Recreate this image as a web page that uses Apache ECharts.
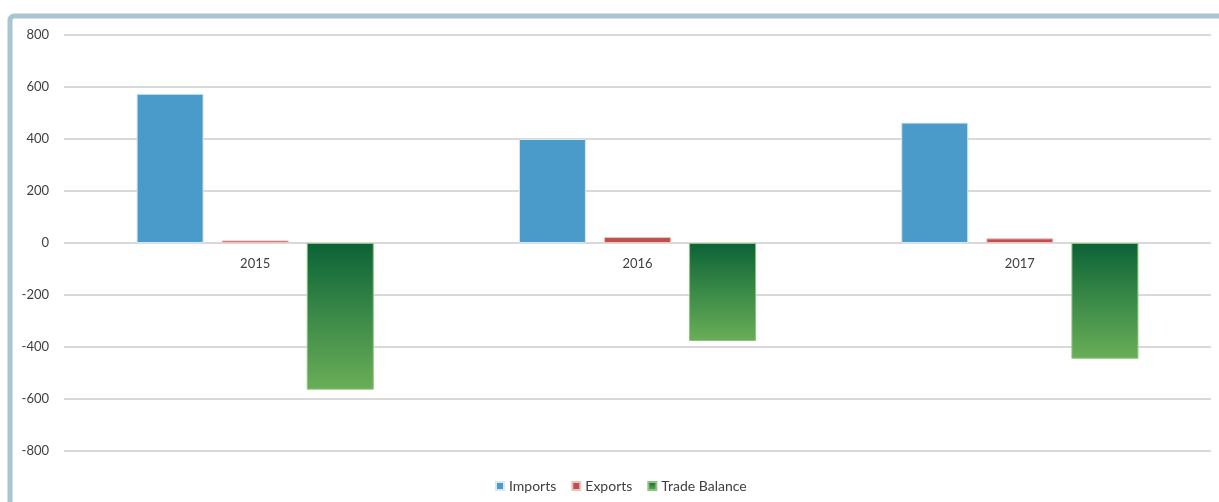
<!DOCTYPE html>
<html>
<head>
<meta charset="utf-8">
<script src="https://cdn.jsdelivr.net/npm/echarts@6/dist/echarts.min.js"></script>
<style>
  html, body { margin: 0; padding: 0; background: #fff; }
  #main { width: 1219px; height: 502px; }
</style>
</head>
<body>
<div id="main"></div>
<script>
var years = ['2015', '2016', '2017']
var imports = [574, 400, 463]
var exports = [10, 23, 18]
var tradeBalance = [-564, -377, -445]
var yTicks = [-800, 800, 200] // min, max, step

var chart = echarts.init(document.getElementById('main'))
var txt = '#404040'
var font = 'Lato, "Open Sans", sans-serif'

var greenFill = new echarts.graphic.LinearGradient(0, 0, 0, 1, [
    { offset: 0, color: '#0b6236' },
    { offset: 0.5, color: '#3b8a48' },
    { offset: 1, color: '#6aae57' },
])

var option = {
    animation: false,
    textStyle: { fontFamily: font },
    graphic: [
        {
            type: 'rect',
            shape: { x: 10, y: 16, width: 1400, height: 700, r: 4 },
            style: { fill: 'none', stroke: '#a9c5cf', lineWidth: 5 },
            silent: true,
        },
    ],
    grid: { left: 64, right: 8, top: 35, bottom: 51 },
    legend: {
        left: 490,
        bottom: 4,
        itemWidth: 8,
        itemHeight: 8,
        itemGap: 15,
        icon: 'rect',
        textStyle: { color: txt, fontSize: 14, fontFamily: font },
        data: ['Imports', 'Exports', 'Trade Balance'],
    },
    xAxis: {
        type: 'category',
        data: years,
        offset: -208, // labels sit under the zero line
        axisLine: { show: false, onZero: false },
        axisTick: { show: false },
        axisLabel: { color: txt, fontSize: 13, margin: 14 },
    },
    yAxis: {
        type: 'value',
        min: yTicks[0],
        max: yTicks[1],
        interval: yTicks[2],
        axisLine: { show: false },
        axisTick: { show: false },
        axisLabel: { color: txt, fontSize: 13, margin: 15 },
        splitLine: { lineStyle: { color: '#d9d9d9', width: 2 } },
    },
    series: [
        {
            name: 'Imports',
            type: 'bar',
            data: imports,
            barWidth: 67,
            barGap: '27%',
            itemStyle: { color: '#4a9bca', borderColor: '#d6e8f2', borderWidth: 1 },
        },
        {
            name: 'Exports',
            type: 'bar',
            data: exports,
            barWidth: 67,
            itemStyle: { color: '#c0504d', borderColor: '#e9c4c3', borderWidth: 1 },
        },
        {
            name: 'Trade Balance',
            type: 'bar',
            data: tradeBalance,
            barWidth: 67,
            itemStyle: { color: greenFill, borderColor: '#8cc47c', borderWidth: 1 },
        },
    ],
}
chart.setOption(option)
</script>
</body>
</html>
